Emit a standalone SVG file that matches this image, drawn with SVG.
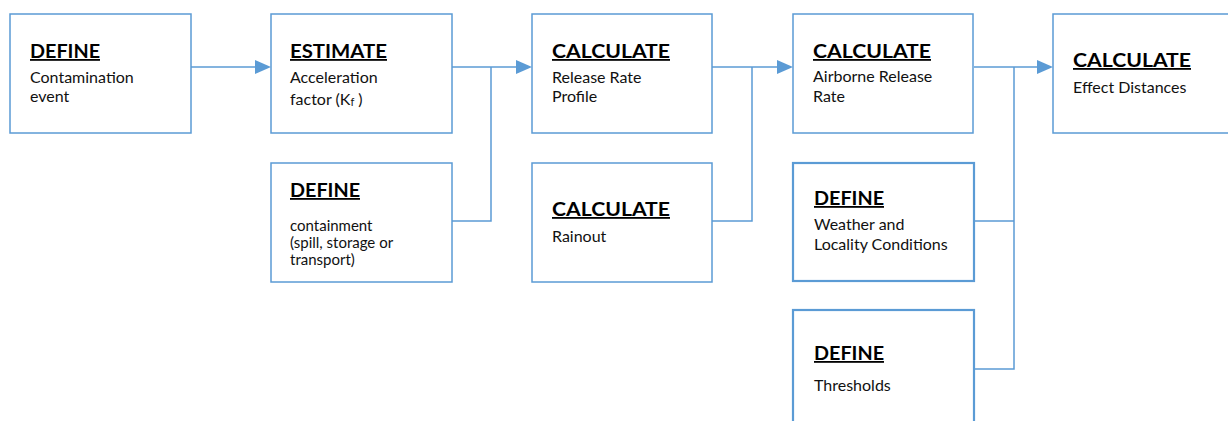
<svg xmlns="http://www.w3.org/2000/svg" width="1228" height="421" viewBox="0 0 1228 421">
<defs>
<style>
.box{fill:#fff;stroke:#5B9BD5;stroke-width:1.5}
.box2{fill:#fff;stroke:#5B9BD5;stroke-width:2.2}
.t{font-family:Lato,"Open Sans","Liberation Sans",sans-serif;font-weight:bold;font-size:18px;fill:#000;text-decoration:underline}
.b{font-family:Lato,"Open Sans","Liberation Sans",sans-serif;font-size:16px;fill:#111}
.s{font-size:15px}
.c{fill:none;stroke:#5B9BD5;stroke-width:1.5}
.ah{fill:#5B9BD5}
</style>
</defs>
<rect width="1228" height="421" fill="#fff"/>
<g id="connectors">
<path class="c" d="M191,67 H259"/>
<path class="ah" d="M255,60 L271,67 L255,74 z"/>
<path class="c" d="M452,67 H520"/>
<path class="ah" d="M516,60 L532,67 L516,74 z"/>
<path class="c" d="M452,221 H491 V67"/>
<path class="c" d="M712,67 H780"/>
<path class="ah" d="M777,60 L793,67 L777,74 z"/>
<path class="c" d="M712,221 H752 V67"/>
<path class="c" d="M974,67 H1040"/>
<path class="ah" d="M1037,60 L1053,67 L1037,74 z"/>
<path class="c" d="M974,221 H1014 M974,369 H1014 V67"/>
</g>
<g id="n1"><rect class="box" x="10" y="14" width="181" height="119"/>
<text class="t" x="30" y="58" textLength="70" lengthAdjust="spacingAndGlyphs">DEFINE</text>
<text class="b" x="30" y="83">Contamination</text><text class="b" x="30" y="102">event</text></g>
<g id="n2"><rect class="box" x="271" y="14" width="181" height="119"/>
<text class="t" x="290" y="58" textLength="97" lengthAdjust="spacingAndGlyphs">ESTIMATE</text>
<text class="b" x="290" y="83">Acceleration</text><text class="b" x="290" y="105">factor (K<tspan font-size="11" dy="1">f</tspan><tspan dy="-1"> )</tspan></text></g>
<g id="n3"><rect class="box" x="271" y="163" width="181" height="119"/>
<text class="t" x="290" y="197" textLength="70" lengthAdjust="spacingAndGlyphs">DEFINE</text>
<text class="b s" x="290" y="231">containment</text><text class="b s" x="290" y="248">(spill, storage or</text><text class="b s" x="290" y="265">transport)</text></g>
<g id="n4"><rect class="box" x="532" y="14" width="180" height="119"/>
<text class="t" x="552" y="58" textLength="118" lengthAdjust="spacingAndGlyphs">CALCULATE</text>
<text class="b" x="552" y="83">Release Rate</text><text class="b" x="552" y="102">Profile</text></g>
<g id="n5"><rect class="box" x="532" y="163" width="180" height="119"/>
<text class="t" x="552" y="216" textLength="118" lengthAdjust="spacingAndGlyphs">CALCULATE</text>
<text class="b" x="552" y="242">Rainout</text></g>
<g id="n6"><rect class="box" x="793" y="14" width="180" height="119"/>
<text class="t" x="813" y="58" textLength="118" lengthAdjust="spacingAndGlyphs">CALCULATE</text>
<text class="b" x="813" y="82">Airborne Release</text><text class="b" x="813" y="102">Rate</text></g>
<g id="n7"><rect class="box2" x="793" y="163" width="181" height="118"/>
<text class="t" x="814" y="205" textLength="70" lengthAdjust="spacingAndGlyphs">DEFINE</text>
<text class="b" x="814" y="230">Weather and</text><text class="b" x="814" y="250">Locality Conditions</text></g>
<g id="n8"><rect class="box2" x="793" y="310" width="181" height="130"/>
<text class="t" x="814" y="360" textLength="70" lengthAdjust="spacingAndGlyphs">DEFINE</text>
<text class="b" x="814" y="391">Thresholds</text></g>
<g id="n9"><rect class="box" x="1053" y="14" width="180" height="119"/>
<text class="t" x="1073" y="67" textLength="118" lengthAdjust="spacingAndGlyphs">CALCULATE</text>
<text class="b" x="1073" y="93">Effect Distances</text></g>
</svg>
